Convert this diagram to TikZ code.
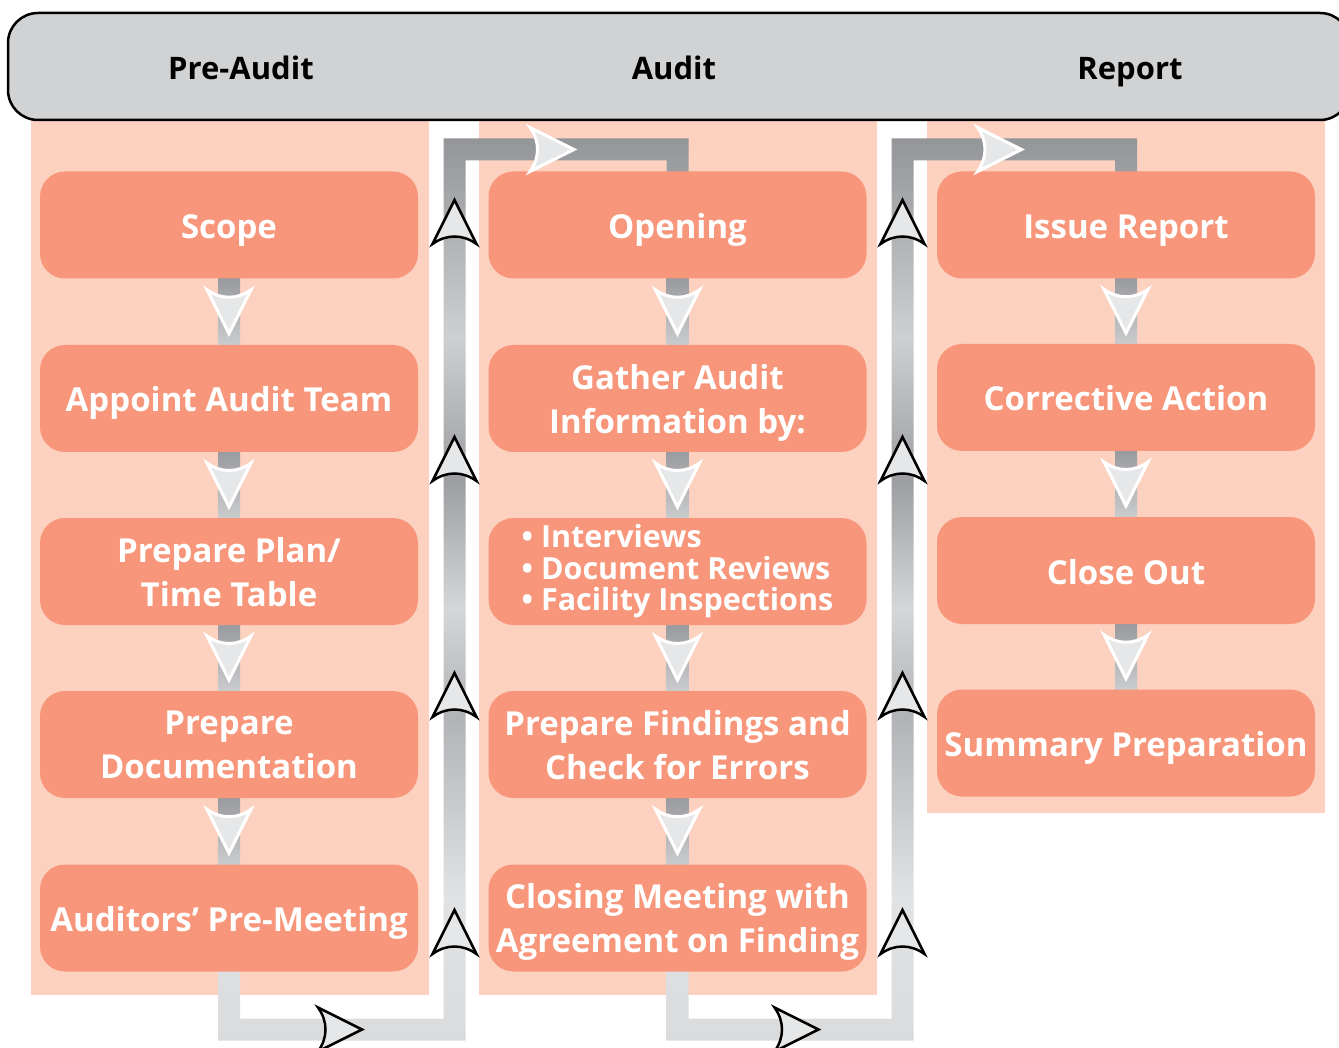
\documentclass[tikz,border=0pt]{standalone}
\usepackage{fontspec}
\setmainfont{Open Sans}
\usetikzlibrary{calc}
\definecolor{hdr}{HTML}{D1D2D4}
\definecolor{peach}{HTML}{FCD1BF}
\definecolor{salmon}{HTML}{F7967A}
\definecolor{arrfill}{HTML}{E6E7E8}
\definecolor{barD}{HTML}{939598}
\definecolor{barM}{HTML}{B1B3B6}
\definecolor{barL}{HTML}{E1E2E3}
\colorlet{barA}{barL!85!barM}
\colorlet{barB}{barL!75!barM}
\colorlet{barC}{barD!70!barM}
\colorlet{barE}{barL!60!barM}
\colorlet{barIn}{barD!85!barM}
\colorlet{barOut}{barL!55!barM}
\pgfdeclareverticalshading{barshade}{100bp}{color(0bp)=(barA); color(25bp)=(barA); color(33bp)=(barL); color(43bp)=(barM); color(49bp)=(barB); color(56bp)=(barC); color(64bp)=(barE); color(75bp)=(barD); color(100bp)=(barD)}
\pgfdeclarelayer{bg}
\pgfsetlayers{bg,main}
\tikzset{
  boxbase/.style={fill=salmon, rounded corners=25pt, minimum width=378pt, minimum height=107pt,
    inner sep=0pt, text=white, font=\bfseries\fontsize{33}{44}\selectfont, align=center},
  box/.style={boxbase, text height=27pt, text depth=0pt},
  boxtwo/.style={boxbase, text depth=0pt},
  bulletbox/.style={boxbase, font=\bfseries\fontsize{30.5}{31.5}\selectfont, align=left},
  hdrtext/.style={font=\bfseries\fontsize{31}{36}\selectfont, text=black, inner sep=0pt, anchor=base},
  flowarrow/.pic={\path[pic actions] (22,0) -- (-22,-22) .. controls (-12,-8) and (-12,8) .. (-22,22) -- cycle;},
  warr/.style={draw=white, line width=3pt, fill=arrfill, line join=miter},
  barr/.style={draw=black, line width=2.5pt, fill=arrfill, line join=miter},
}
\begin{document}
\begin{tikzpicture}[x=1pt,y=-1pt]
\useasboundingbox (0,0) rectangle (1339,1048);
% header
\draw[fill=hdr, line width=2.5pt, rounded corners=30pt] (8,13) rectangle (1350,120);
\node[hdrtext] (preaudit) at (241,80) {Pre-Audit};
\node[hdrtext] (audit) at (674,80) {Audit};
\node[hdrtext] (report) at (1130,80) {Report};
% boxes column 1
\node[box] (scope) at (229,225) {Scope};
\node[box] (appoint) at (229,398.5) {Appoint Audit Team};
\node[boxtwo] (plan) at (229,571.5) {Prepare Plan/\\Time Table};
\node[boxtwo] (doc) at (229,744.5) {Prepare\\Documentation};
\node[box] (premeet) at (229,918) {Auditors’ Pre-Meeting};
% column 2
\node[box] (opening) at (677.5,225) {Opening};
\node[boxtwo] (gather) at (677.5,398.5) {Gather Audit\\Information by:};
\node[bulletbox] (bullets) at (677.5,571.5) {\textbullet\ Interviews\\\textbullet\ Document Reviews\\\textbullet\ Facility Inspections};
\node[boxtwo] (findings) at (677.5,744.5) {Prepare Findings and\\Check for Errors};
\node[boxtwo] (closing) at (677.5,918) {Closing Meeting with\\Agreement on Finding};
% column 3
\node[box] (issue) at (1126,225) {Issue Report};
\node[box] (corrective) at (1126,397.5) {Corrective Action};
\node[box] (closeout) at (1126,570.5) {Close Out};
\node[box] (summary) at (1126,743) {Summary Preparation};
% connector corner coordinates
\coordinate (L1b) at (454.5,1029.5);
\coordinate (L1t) at (454.5,149.5);
\coordinate (L1d) at (premeet.south |- L1b);
\coordinate (L1c) at (opening.north |- L1t);
\coordinate (R1b) at (902.5,1029.5);
\coordinate (R1t) at (902.5,149.5);
\coordinate (R1d) at (closing.south |- R1b);
\coordinate (R1c) at (issue.north |- R1t);
\begin{pgfonlayer}{bg}
  \fill[peach] (31,120) rectangle (429,995);
  \fill[peach] (479,120) rectangle (877,995);
  \fill[peach] (927,120) rectangle (1325,813);
  \shade[shading=barshade] ($(premeet.south)+(-11,-2)$) -- ($(L1d)+(-11,11)$) -- ($(L1b)+(11,11)$)
    -- ($(L1t)+(11,11)$) -- ($(L1c)+(-11,11)$) -- ($(opening.north)+(-11,2)$) -- ($(opening.north)+(11,2)$)
    -- ($(L1c)+(11,-11)$) -- ($(L1t)+(-11,-11)$) -- ($(L1b)+(-11,-11)$) -- ($(L1d)+(11,-11)$)
    -- ($(premeet.south)+(11,-2)$) -- cycle;
  \shade[shading=barshade] ($(closing.south)+(-11,-2)$) -- ($(R1d)+(-11,11)$) -- ($(R1b)+(11,11)$)
    -- ($(R1t)+(11,11)$) -- ($(R1c)+(-11,11)$) -- ($(issue.north)+(-11,2)$) -- ($(issue.north)+(11,2)$)
    -- ($(R1c)+(11,-11)$) -- ($(R1t)+(-11,-11)$) -- ($(R1b)+(-11,-11)$) -- ($(R1d)+(11,-11)$)
    -- ($(closing.south)+(11,-2)$) -- cycle;
  \foreach \a/\b in {scope/appoint, appoint/plan, plan/doc, doc/premeet,
      opening/gather, gather/bullets, bullets/findings, findings/closing,
      issue/corrective, corrective/closeout, closeout/summary}
    \shade[top color=barIn, bottom color=barOut] ($(\a.south)+(-11,-2)$) rectangle ($(\b.north)+(11,2)$);
\end{pgfonlayer}
% arrowheads between boxes
\foreach \a/\b in {scope/appoint, appoint/plan, plan/doc, doc/premeet,
    opening/gather, gather/bullets, bullets/findings, findings/closing,
    issue/corrective, corrective/closeout, closeout/summary}
  \pic[warr, rotate=-90] at ($(\a.south)!0.5!(\b.north)$) {flowarrow};
% arrowheads on the long connectors
\foreach \yy in {222,459,695,932} {
  \pic[barr, rotate=90] at (454.5,\yy) {flowarrow};
  \pic[barr, rotate=90] at (902.5,\yy) {flowarrow};
}
\pic[warr] at (552,149.5) {flowarrow};
\pic[warr] at (999.5,149.5) {flowarrow};
\pic[barr] at (340,1029.5) {flowarrow};
\pic[barr] at (796.5,1029.5) {flowarrow};
\end{tikzpicture}
\end{document}
